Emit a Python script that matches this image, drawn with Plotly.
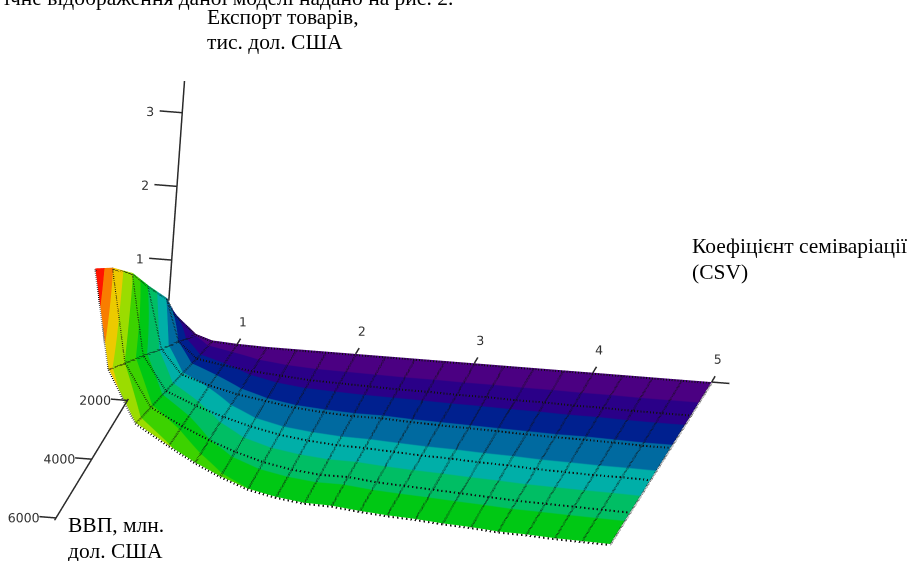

import plotly.graph_objects as go

csv_columns_near = [
 [.46,.545,.54,.56,.55,.56],
 [.65,.67,.69,.70,.71,.73],
]
csv_values = [0.36,0.58,0.79,1.0,1.25,1.5,1.75,2.0,2.25,2.5,2.75,3.0,3.25,3.5,3.75,4.0,4.25,4.5,4.75,5.0]
csv_far_shift = [.20,.15,.20,.28,.26,.23,.22,.21,.20,.18,.17,.15,.14,.12,.11,.09,.08,.07,.05,.04]
gdp_values = [0,1200,2400,3600,4800,6000]
export_rows = [
 [.35,.10,.03,.01,0,0,0,0,0,0,0,0,0,0,0,0,0,0,0,0],
 [1.05,.49,.28,.22,.17,.14,.11,.10,.09,.08,.08,.07,.07,.06,.06,.05,.05,.04,.04,.04],
 [1.70,.87,.55,.43,.34,.28,.22,.19,.17,.17,.15,.14,.13,.12,.11,.10,.10,.09,.08,.08],
 [2.35,1.26,.81,.64,.52,.42,.34,.29,.26,.25,.23,.21,.20,.18,.17,.15,.14,.13,.13,.12],
 [2.90,1.64,1.07,.85,.69,.56,.45,.38,.34,.34,.30,.28,.26,.24,.22,.20,.19,.18,.17,.16],
 [3.37,2.03,1.33,1.06,.86,.70,.56,.48,.43,.42,.38,.35,.33,.30,.28,.25,.24,.22,.21,.20],
]
colour_rows = [
 [1.5,.7,.4,.25,.1,.1,.1,.1,.1,.1,.1,.1,.1,.1,.1,.1,.1,.1,.1,.1],
 [3.9,2.9,2.4,2.1,1.7,1.52,1.5,1.5,1.5,1.5,1.5,1.5,1.5,1.5,1.5,1.5,1.5,1.5,1.5,1.5],
 [5.9,4.7,4.1,3.8,3.35,3.12,3.1,3.1,3.1,3.1,3.1,3.1,3.1,3.1,3.1,3.1,3.1,3.1,3.1,3.1],
 [8.0,6.3,5.6,5.2,4.6,4.35,4.3,4.3,4.3,4.3,4.3,4.3,4.3,4.3,4.3,4.3,4.3,4.3,4.3,4.3],
 [10.0,7.9,7.1,6.7,6.0,5.65,5.6,5.6,5.6,5.6,5.6,5.6,5.6,5.6,5.6,5.6,5.6,5.6,5.6,5.6],
 [12.0,9.3,8.4,8.05,7.6,7.15,7.0,6.98,6.98,6.98,6.98,6.98,6.98,6.98,6.98,6.98,6.98,6.98,6.98,6.98],
]
band_colours = ["#4b0082","#2a0088","#00208f","#006aa0","#00afa8","#00be64","#00c814","#3cd200","#9bdc00","#ecca00","#f97d00","#ff1400"]
x_ticks = [1,2,3,4,5]
y_ticks = [2000,4000,6000]
z_ticks = [1,2,3]
AXIS_X = 0.38
AXIS_Y_BACK = -170
AXIS_Z_LOW = -0.04

csv_rows = [[x + s*y/6000 for x, s in zip(csv_values, csv_far_shift)] for y in gdp_values]
for j in range(len(gdp_values)):
    for k, col in enumerate(csv_columns_near):
        csv_rows[j][k] = col[j]

scale = []
n = len(band_colours)
for i, c in enumerate(band_colours):
    scale += [[i/n, c], [(i+1)/n, c]]

fig = go.Figure()
fig.add_trace(go.Surface(x=csv_rows, y=gdp_values, z=export_rows, surfacecolor=colour_rows,
    cmin=0, cmax=n, colorscale=scale, showscale=False, hoverinfo="skip",
    lighting=dict(ambient=1, diffuse=0, specular=0, roughness=1, fresnel=0)))

def line(xs, ys, zs, dash="solid", width=3, color="#2a2a2a"):
    fig.add_trace(go.Scatter3d(x=xs, y=ys, z=zs, mode="lines", hoverinfo="skip", showlegend=False,
                               line=dict(color=color, width=width, dash=dash)))
def label(xs, ys, zs, text, pos):
    fig.add_trace(go.Scatter3d(x=xs, y=ys, z=zs, mode="text", text=text, textposition=pos, hoverinfo="skip",
                               showlegend=False, textfont=dict(family="DejaVu Sans", size=12.5, color="#333333")))

LIFT = 0.015
for j, y in enumerate(gdp_values):
    line(csv_rows[j], [y]*len(csv_values), [v-LIFT for v in export_rows[j]], dash="dot", width=4, color="#111111")
for k in range(len(csv_values)):
    line([r[k] for r in csv_rows], gdp_values, [row[k]-LIFT for row in export_rows], dash="dot", width=4, color="#111111")

line([AXIS_X, AXIS_X], [AXIS_Y_BACK]*2, [0.45, 3.43])
line([AXIS_X, AXIS_X], [1950, 6080], [AXIS_Z_LOW]*2)
line([5, 5.15], [0, 0], [0, 0])
for t in z_ticks:
    line([AXIS_X-0.19, AXIS_X], [AXIS_Y_BACK]*2, [t, t])
    label([AXIS_X-0.14], [AXIS_Y_BACK], [t], [str(t)], "middle left")
for t in y_ticks:
    line([AXIS_X-0.14, AXIS_X], [t, t], [AXIS_Z_LOW]*2)
    label([AXIS_X-0.04], [t], [AXIS_Z_LOW], [str(t)], "middle left")
for t in x_ticks:
    line([t, t], [-200, 0], [0, 0])
    label([t+0.02], [-200], [0], [str(t)], "top center")

hidden = dict(visible=False)
K = 5.76
fig.update_layout(
    width=918, height=561, margin=dict(l=0, r=0, t=0, b=0), paper_bgcolor="white", showlegend=False,
    scene=dict(
        domain=dict(x=[0,1], y=[0,1]),
        xaxis=dict(range=[-0.1,5.2], **hidden), yaxis=dict(range=[-300,6100], **hidden), zaxis=dict(range=[-0.05,3.45], **hidden),
        aspectmode="manual", aspectratio=dict(x=0.3912*K, y=1*K, z=0.1612*K),
        camera=dict(projection=dict(type="orthographic"),
                    eye=dict(x=0.015*K, y=-0.53479*K, z=-0.03758*K),
                    center=dict(x=0.01954*K, y=-0.46205*K, z=-0.02867*K),
                    up=dict(x=-0.0787, y=-0.1164, z=0.9905)),
    ),
)
texts = [("ічне відображення даної моделі надано на рис. 2.", 2, -2), ("Експорт товарів,", 205, 17), ("тис. дол. США", 205, 42),
         ("Коефіцієнт семіваріації", 690, 246), ("(CSV)", 690, 272), ("ВВП, млн.", 66, 525), ("дол. США", 66, 551)]
for t, px, py in texts:
    fig.add_annotation(text=t, x=px/918, y=1-py/561, xref="paper", yref="paper", xanchor="left", yanchor="middle",
                       showarrow=False, font=dict(family="Liberation Serif", size=21.5, color="black"))
fig.write_html("out.html", post_script="document.body.style.margin='0';", config=dict(displayModeBar=False))
